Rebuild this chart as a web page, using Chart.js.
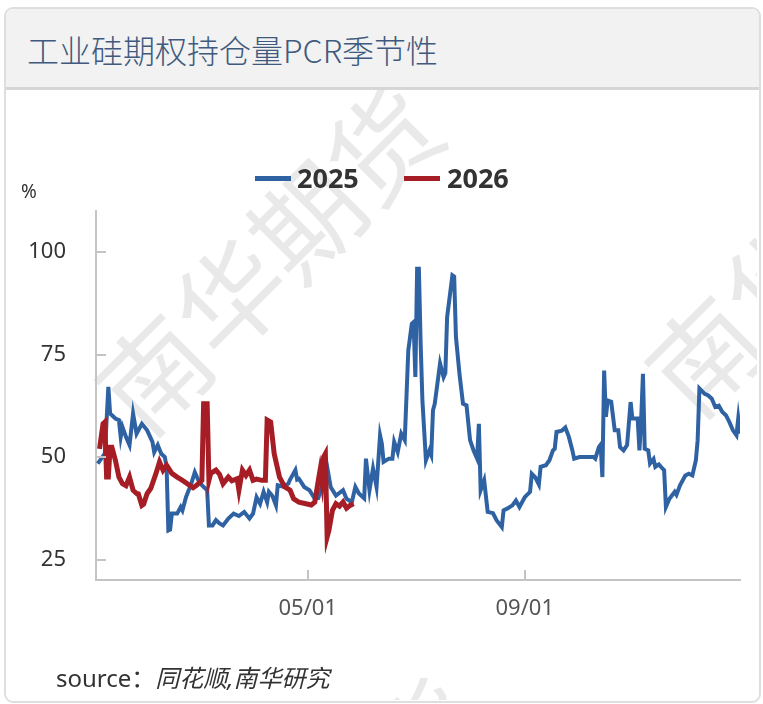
<!DOCTYPE html>
<html>
<head>
<meta charset="utf-8">
<script src="https://cdn.jsdelivr.net/npm/chart.js@4.4.1/dist/chart.umd.min.js"></script>
<style>
html,body{margin:0;padding:0;background:#fff;width:763px;height:704px;overflow:hidden;font-family:"Noto Sans","Noto Sans CJK SC",sans-serif;}
#card{position:absolute;left:4px;top:7px;width:753px;height:692px;border:2px solid #dedede;border-radius:9px;background:#fff;overflow:hidden;z-index:0;}
#header{position:absolute;left:0;top:0;right:0;height:78px;background:#f2f2f2;border-bottom:3px solid #d6d6d6;}
#title{position:absolute;left:21px;top:18px;font-size:32px;line-height:44px;color:#3f5a7e;font-family:"Noto Sans CJK SC",sans-serif;font-weight:300;white-space:nowrap;}
#wm{position:absolute;left:6px;top:90px;width:751px;height:610px;overflow:hidden;z-index:1;}
.wmt{position:absolute;font-family:"Noto Sans CJK SC",sans-serif;font-size:108px;line-height:108px;color:rgba(0,0,0,0.085);transform-origin:0 50%;transform:rotate(-45deg);white-space:nowrap;}
#c{position:absolute;left:0;top:0;z-index:2;}
.txt{position:absolute;z-index:3;white-space:nowrap;color:#333;}
.sw{position:absolute;z-index:3;height:5px;width:36px;}
</style>
</head>
<body>
<div id="card"><div id="header"><div id="title">工业硅期权持仓量PCR季节性</div></div></div>
<div id="wm">
  <div class="wmt" style="left:106px;top:264px;">南华期货</div>
  <div class="wmt" style="left:656px;top:246px;">南华期货</div>
  <div class="wmt" style="left:147px;top:858px;">南华期货</div>
</div>
<canvas id="c" width="763" height="704"></canvas>
<div id="legend"></div>
<div class="txt" style="left:21px;top:179px;font-size:19px;line-height:24px;">%</div>
<div class="txt" style="left:56px;top:663px;font-size:24px;line-height:30px;">source：<i>同花顺,南华研究</i></div>
<script>
// ---- data ----
const seriesNames = ['2025', '2026'];
const seriesColors = ['#2f62a3', '#a61d25'];

const days2025 = [1,3,5,7,8,11,13,14,15,17,
 19,21,23,26,29,32,33,35,37,39,
 40,41,42,43,46,48,49,51,54,56,
 58,60,63,64,66,68,70,72,75,78,
 81,84,87,89,91,93,95,97,98,100,
 102,103,106,109,110,113,114,115,118,121,
 124,126,128,131,133,136,140,142,145,147,
 149,152,153,155,157,159,161,162,163,166,
 168,169,171,173,175,177,179,180,181,182,
 183,184,185,187,189,190,191,192,195,197,
 198,199,202,203,204,206,208,210,212,214,
 216,217,218,220,222,225,227,230,231,233,
 236,238,240,243,246,247,249,251,252,255,
 257,259,260,261,264,266,268,270,271,274,
 282,283,285,286,287,288,289,290,292,294,
 296,297,299,301,303,304,307,308,309,310,
 311,313,314,316,317,319,321,322,323,325,
 328,329,331,334,336,338,340,341,342,345,
 347,349,351,353,355,357,359,361,363,364,
 365];
const pcr2025 = [48.4,49.6,50.8,67.1,60.6,59.4,59.0,54.9,57.3,54.9,
 52.9,60.6,55.7,58.1,56.5,53.7,51.2,52.9,50.8,50.0,
 47.6,32.1,32.3,36.2,36.2,37.8,37.0,40.2,43.5,46.3,
 44.3,43.1,41.9,33.3,33.3,34.6,33.8,33.3,35.0,36.2,
 35.6,36.6,35.0,36.2,40.2,38.6,41.5,39.0,41.5,40.5,
 38.2,43.1,42.8,43.5,44.5,46.8,44.5,44.7,42.7,41.9,
 39.8,40.0,43.0,47.6,42.7,40.6,41.9,39.8,39.0,42.7,
 41.1,39.9,49.6,41.9,47.2,42.7,55.3,53.3,48.8,49.6,
 49.6,53.7,51.2,55.7,54.1,76.0,82.5,82.9,69.5,95.9,
 95.9,77.7,63.8,49.2,51.6,50.5,61.4,63.0,72.8,69.5,
 70.5,84.1,94.3,94.0,79.3,70.3,63.0,62.6,54.1,51.6,
 49.6,58.1,41.9,44.3,36.6,36.3,34.6,32.9,37.0,37.4,
 38.2,39.4,37.8,40.2,41.5,45.9,45.0,43.3,47.6,48.0,
 49.2,51.6,52.0,56.1,56.4,57.2,54.9,51.6,49.6,50.0,
 50.0,49.6,52.4,53.0,45.1,71.1,59.8,63.8,63.5,56.5,
 56.5,52.4,51.6,52.9,63.4,59.4,59.4,51.6,59.4,70.3,
 52.0,51.6,48.4,49.5,47.6,48.2,47.2,46.8,37.8,39.8,
 41.5,40.8,43.1,45.5,45.9,45.5,49.2,54.1,66.7,65.4,
 65.0,64.2,62.2,62.5,61.0,60.2,58.5,56.5,55.3,59.4,
 55.7];

const days2026 = [2,4,5,6,7,8,9,11,13,15,
 17,19,21,23,24,26,27,29,31,32,
 34,36,38,40,43,46,49,53,55,57,
 60,61,63,64,65,68,70,72,75,77,
 80,81,83,85,87,89,91,94,96,97,
 99,101,104,107,110,112,115,119,122,124,
 126,127,128,129,130,131,132,134,136,138,
 140,142,144,146];
const pcr2026 = [52.0,58.1,58.5,45.1,45.1,52.4,52.4,49.2,45.1,43.5,
 43.0,45.1,41.9,41.1,41.0,38.2,38.5,41.1,42.3,43.5,
 46.0,48.8,46.8,48.0,46.0,45.1,44.3,43.1,42.5,43.1,
 44.3,63.0,63.0,44.3,46.0,46.8,45.8,43.5,45.1,44.2,
 44.7,41.9,46.8,45.5,46.8,44.3,44.6,44.3,44.3,59.0,
 58.5,50.8,45.1,42.7,41.9,39.8,39.0,38.6,38.3,39.0,
 44.3,46.8,44.0,50.0,50.8,30.5,32.1,37.0,38.6,38.0,
 39.0,37.5,38.2,38.6];

const xTickDays = [120, 243];
const xTickLabels = ['05/01', '09/01'];
const yTickValues = [25, 50, 75, 100];

// ---- legend (HTML) ----
const legendPos = [{sw:255, tx:297}, {sw:404, tx:447}];
const lg = document.getElementById('legend');
seriesNames.forEach((n, i) => {
  const s = document.createElement('div');
  s.className = 'sw';
  s.style.left = legendPos[i].sw + 'px';
  s.style.top = '176px';
  s.style.background = seriesColors[i];
  lg.appendChild(s);
  const t = document.createElement('div');
  t.className = 'txt';
  t.textContent = n;
  t.style.left = legendPos[i].tx + 'px';
  t.style.top = '160px';
  t.style.fontSize = '27px';
  t.style.lineHeight = '36px';
  t.style.fontWeight = '700';
  lg.appendChild(t);
});

const toXY = (d, v) => d.map((x, i) => ({x: x, y: v[i]}));

const innerTicks = {
  id: 'innerTicks',
  afterDatasetsDraw(chart) {
    const {ctx, chartArea: a, scales: {x, y}} = chart;
    ctx.save();
    ctx.strokeStyle = '#c4c4c4';
    ctx.lineWidth = 2;
    y.ticks.forEach(t => {
      const p = Math.round(y.getPixelForValue(t.value));
      ctx.beginPath(); ctx.moveTo(a.left, p); ctx.lineTo(a.left + 10, p); ctx.stroke();
    });
    x.ticks.forEach(t => {
      const p = Math.round(x.getPixelForValue(t.value));
      ctx.beginPath(); ctx.moveTo(p, a.bottom); ctx.lineTo(p, a.bottom - 10); ctx.stroke();
    });
    ctx.restore();
  }
};

new Chart(document.getElementById('c'), {
  type: 'line',
  data: {
    datasets: [
      {label: seriesNames[0], data: toXY(days2025, pcr2025), borderColor: seriesColors[0], backgroundColor: seriesColors[0], borderWidth: 4, pointRadius: 0, tension: 0, order: 2},
      {label: seriesNames[1], data: toXY(days2026, pcr2026), borderColor: seriesColors[1], backgroundColor: seriesColors[1], borderWidth: 5, pointRadius: 0, tension: 0, order: 1}
    ]
  },
  options: {
    responsive: false,
    animation: false,
    devicePixelRatio: 1,
    layout: {padding: {top: 211, right: 23, bottom: 0, left: 0}},
    plugins: {legend: {display: false}, tooltip: {enabled: false}},
    scales: {
      x: {
        type: 'linear', min: 0, max: 365,
        grid: {display: false, drawTicks: false},
        border: {display: true, color: '#c4c4c4', width: 2},
        afterBuildTicks: ax => { ax.ticks = xTickDays.map(v => ({value: v})); },
        afterFit: ax => { ax.height = 124; },
        ticks: {
          autoSkip: false, maxRotation: 0, padding: 16,
          color: '#555', font: {size: 22, family: '"Noto Sans", sans-serif'},
          callback: v => { const i = xTickDays.indexOf(v); return i >= 0 ? xTickLabels[i] : ''; }
        }
      },
      y: {
        type: 'linear', min: 20, max: 110,
        grid: {display: false, drawTicks: false},
        border: {display: true, color: '#c4c4c4', width: 2},
        afterBuildTicks: ax => { ax.ticks = yTickValues.map(v => ({value: v})); },
        afterFit: ax => { ax.width = 96; },
        ticks: {
          padding: 30, color: '#333', font: {size: 22, family: '"Noto Sans", sans-serif'},
          callback: v => String(v)
        }
      }
    }
  },
  plugins: [innerTicks]
});
</script>
</body>
</html>
